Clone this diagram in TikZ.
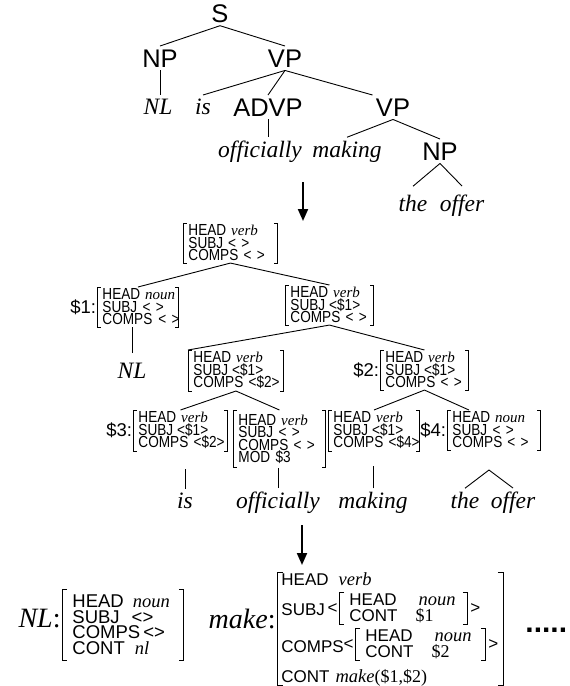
\documentclass[tikz,border=0pt]{standalone}
\usepackage{fontspec}
\setmainfont{Liberation Serif}
\setsansfont{Liberation Sans}
\newfontfamily\avmsans{Liberation Sans}[FakeStretch=0.85]
\usetikzlibrary{arrows.meta}

\newcommand\catf{\sffamily\fontsize{25.5}{28}\selectfont}
\newcommand\wordf{\rmfamily\itshape\fontsize{23.5}{26}\selectfont}
\newcommand\avmf{\avmsans\fontsize{16}{12.5}\selectfont\lineskiplimit=-20pt}
\newcommand\tagf{\sffamily\fontsize{18.5}{20}\selectfont}
\newcommand\bavmf{\sffamily\fontsize{17}{15.5}\selectfont\lineskiplimit=-20pt}
\newcommand\nlavmf{\sffamily\fontsize{18.5}{15.5}\selectfont\lineskiplimit=-20pt}
\newcommand\lexf{\rmfamily\fontsize{28}{30}\selectfont}
\newcommand\val[1]{{\rmfamily\itshape\fontsize{15}{12.5}\selectfont #1}}
\newcommand\bval[1]{{\rmfamily\itshape\fontsize{18.5}{15.5}\selectfont #1}}
\newcommand\brm[1]{{\rmfamily\fontsize{18}{15.5}\selectfont #1}}
% square brackets round an AVM node
\newcommand\avmbr[2][3.5pt]{%
  \draw ([xshift=#1]#2.north west) -- (#2.north west) -- (#2.south west) -- ([xshift=#1]#2.south west);
  \draw ([xshift=-#1]#2.north east) -- (#2.north east) -- (#2.south east) -- ([xshift=-#1]#2.south east);}

\begin{document}
\begin{tikzpicture}[x=1pt,y=-1pt,line width=0.9pt,
  cat/.style={font=\catf,inner sep=3pt,anchor=base},
  word/.style={font=\wordf,inner sep=3pt,anchor=base},
  avm/.style={font=\avmf,align=left,inner xsep=5pt,inner ysep=1.5pt,anchor=north west},
  tag/.style={font=\tagf,inner sep=0.5pt,anchor=east},
  bavm/.style={font=\bavmf,align=left,inner xsep=10pt,inner ysep=7.3pt,anchor=north west},
  btxt/.style={font=\bavmf,inner sep=0pt,anchor=base west},
  lex/.style={font=\lexf,inner sep=0pt,anchor=base east},
  bigarrow/.style={line width=2pt,-{Triangle[length=12pt,width=10pt]}}]
\useasboundingbox (0,0) rectangle (570,686);

% phrase structure tree
\node[cat] (s) at (220,22) {S};
\node[cat] (np) at (160,67) {NP};
\node[cat] (vp) at (285,67) {VP};
\node[word] (nl) at (158,114) {NL};
\node[word] (is) at (203,114) {is};
\node[cat] (advp) at (268,116) {ADVP};
\node[cat] (vpb) at (393,116) {VP};
\node[word] (off) at (260,157) {officially};
\node[word] (mak) at (347,157) {making};
\node[cat] (npb) at (440,160) {NP};
\node[word] (the) at (413,211) {the};
\node[word] (offer) at (462,211) {offer};
\draw (s.south) -- (np.north);
\draw (s.south) -- (vp.north);
\draw (np.south) -- (np.south |- nl.north);
\draw (vp.south) -- (is.north);
\draw (vp.south) -- (advp.north);
\draw (vp.south) -- (vpb.north west);
\draw (advp.south) -- (advp.south |- off.north);
\draw (vpb.south) -- (mak.north);
\draw (vpb.south) -- (npb.north);
\draw (npb.south) -- ([yshift=5pt]the.north);
\draw (npb.south) -- ([yshift=5pt]offer.north);

\coordinate (ar1) at (303,182);
\coordinate (ar1e) at (303,221);
\draw[bigarrow] (ar1) -- (ar1e);

% feature structure tree
\node[avm,text width=84pt] (top) at (183,223) {HEAD\kern5pt\val{verb}\\SUBJ\kern5pt<~>\\COMPS~<~>};
\node[avm,text width=71pt] (sa) at (97,287) {HEAD\kern5pt\val{noun}\\SUBJ~<~>\\COMPS\kern6pt<~>};
\node[tag] (ta) at (sa.west) {\$1:};
\node[avm,text width=78pt] (vpa) at (285,285) {HEAD\kern5pt\val{verb}\\SUBJ\kern4pt<\$1>\\COMPS~<~>};
\node[avm,text width=85pt] (vpc) at (188,350) {HEAD\kern5pt\val{verb}\\SUBJ\kern4pt<\$1>\\COMPS~<\$2>};
\node[avm,text width=78pt] (sb) at (380,350) {HEAD\kern5pt\val{verb}\\SUBJ\kern4pt<\$1>\\COMPS~<~>};
\node[tag] (tb) at (sb.west) {\$2:};
\node[avm,text width=84pt] (sc) at (133,410) {HEAD\kern5pt\val{verb}\\SUBJ\kern4pt<\$1>\\COMPS~<\$2>};
\node[tag] (tc) at (sc.west) {\$3:};
\node[avm,text width=82pt,minimum height=57pt] (adv) at (233,410) {HEAD\kern5pt\val{verb}\\SUBJ~<~>\\COMPS~<~>\\MOD~\$3};
\node[avm,text width=81pt] (mkb) at (328,410) {HEAD\kern5pt\val{verb}\\SUBJ\kern4pt<\$1>\\COMPS~<\$4>};
\node[avm,text width=83pt] (sd) at (447,410) {HEAD\kern5pt\val{noun}\\SUBJ~<~>\\COMPS\kern5pt<~>};
\node[tag] (td) at (sd.west) {\$4:};
\avmbr{top}
\avmbr{sa}
\avmbr{vpa}
\avmbr{vpc}
\avmbr{sb}
\avmbr{sc}
\avmbr{adv}
\avmbr{mkb}
\avmbr{sd}
\draw (top.south) -- (sa.north);
\draw (top.south) -- (vpa.north);
\draw (vpa.south) -- (vpc.north west);
\draw (vpa.south) -- (sb.north);
\draw (vpc.south) -- (sc.north);
\draw (vpc.south) -- (adv.north);
\draw (sb.south) -- (mkb.north);
\draw (sb.south) -- ([xshift=-25pt]sd.north);

\node[word] (nlb) at (132,378) {NL};
\node[word] (isb) at (185,508) {is};
\node[word] (offb) at (278,508) {officially};
\node[word] (makb) at (373,508) {making};
\node[word] (theb) at (465,508) {the};
\node[word] (offerb) at (513,508) {offer};
\draw ([yshift=6pt]nlb.north) -- (nlb.north |- sa.south);
\draw (isb.north) -- ([yshift=20pt]isb.north);
\draw (offb.north) -- ([yshift=20pt]offb.north);
\draw (makb.north) -- ([yshift=22pt]makb.north);
\coordinate (npd) at (489,470);
\draw (theb.north) -- (npd) -- (offerb.north);

\coordinate (ar2) at (302,525);
\coordinate (ar2e) at (302,565);
\draw[bigarrow] (ar2) -- (ar2e);

% lexical entries
\node[bavm,font=\nlavmf,inner ysep=5.7pt,text width=101pt] (nlc) at (62,589) {HEAD\kern9pt\bval{noun}\\SUBJ\kern12pt<>\\COMPS\kern3pt<>\\CONT\kern10pt\bval{nl}};
\node[lex] (nllab) at (61,627) {\textit{NL}:};
\avmbr[5pt]{nlc}

\node[lex] (mklab) at (276,628) {\textit{make}:};
\node[minimum width=226pt,minimum height=113pt,anchor=north west,inner sep=0pt] (mkc) at (277,572) {};
\avmbr[6pt]{mkc}
\node[btxt] (mkh) at (281,585) {HEAD\kern10pt\bval{verb}};
\node[btxt] (mks) at (281,615) {SUBJ};
\node[btxt] (mkp) at (281,652) {COMPS};
\node[btxt] (mkn) at (281,682) {CONT\kern6pt\bval{make}\brm{(\$1,\$2)}};
\node[bavm,inner ysep=1.5pt,text width=108pt] (su) at (339,592) {HEAD\kern22pt\bval{noun}\\CONT\kern18pt\brm{\$1}};
\node[bavm,inner ysep=1.5pt,text width=110pt] (co) at (355,628) {HEAD\kern22pt\bval{noun}\\CONT\kern18pt\brm{\$2}};
\avmbr[5pt]{su}
\avmbr[5pt]{co}
\node[btxt,anchor=east,inner sep=1pt] (sul) at (su.west) {<};
\node[btxt,anchor=west,inner sep=2pt] (sur) at (su.east) {>};
\node[btxt,anchor=east,inner sep=1pt] (col) at (co.west) {<};
\node[btxt,anchor=west,inner sep=2pt] (cor) at (co.east) {>};
\node[font=\sffamily\bfseries\fontsize{30}{30}\selectfont,anchor=base west,inner sep=0pt] (more) at (525,632) {.....};
\end{tikzpicture}
\end{document}
